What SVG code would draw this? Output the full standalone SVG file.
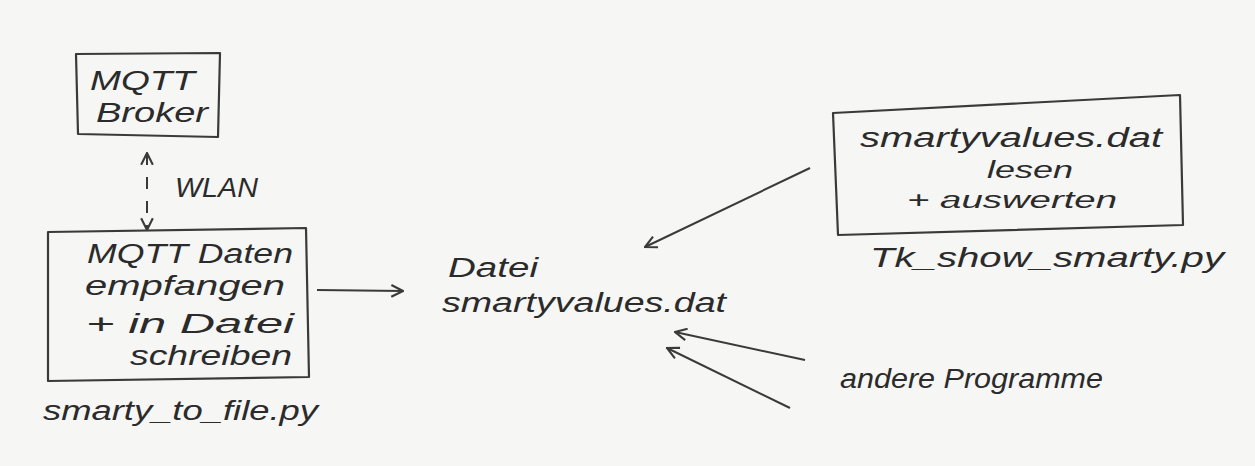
<svg xmlns="http://www.w3.org/2000/svg" width="1255" height="466" viewBox="0 0 1255 466">
<defs>
<style>
.t{font-family:"Liberation Sans","DejaVu Sans",sans-serif;font-style:italic;font-size:27px;fill:#2b2b2b}
.s{font-size:23px}
.box{fill:none;stroke:#3a3a3a;stroke-width:2.2;stroke-linejoin:round}
.ln{fill:none;stroke:#3a3a3a;stroke-width:2}
</style>
<marker id="ah" viewBox="0 0 12 12" refX="11" refY="6" markerWidth="14" markerHeight="14" markerUnits="userSpaceOnUse" orient="auto-start-reverse">
<path d="M1,1 L11,6 L1,11" fill="none" stroke="#3a3a3a" stroke-width="1.8"/>
</marker>
</defs>
<rect width="1255" height="466" fill="#f6f6f4"/>
<g id="broker">
<path class="box" d="M76,54 L220,53 L218,137 L78,134 Z"/>
<text class="t" x="90" y="90" textLength="105" lengthAdjust="spacingAndGlyphs">MQTT</text>
<text class="t" x="96" y="122" textLength="112" lengthAdjust="spacingAndGlyphs">Broker</text>
</g>
<g id="receiver">
<path class="box" d="M48,232 L306,228 L309,377 L48,381 Z"/>
<text class="t" x="87" y="263" textLength="206" lengthAdjust="spacingAndGlyphs">MQTT Daten</text>
<text class="t" x="85" y="295" textLength="200" lengthAdjust="spacingAndGlyphs">empfangen</text>
<text class="t" x="86" y="333" textLength="208" lengthAdjust="spacingAndGlyphs">+ in Datei</text>
<text class="t" x="130" y="365" textLength="162" lengthAdjust="spacingAndGlyphs">schreiben</text>
<text class="t" x="43" y="420" textLength="275" lengthAdjust="spacingAndGlyphs">smarty_to_file.py</text>
</g>
<g id="file">
<text class="t" x="448" y="277" textLength="90" lengthAdjust="spacingAndGlyphs">Datei</text>
<text class="t" x="442" y="312" textLength="284" lengthAdjust="spacingAndGlyphs">smartyvalues.dat</text>
</g>
<g id="tkshow">
<path class="box" d="M833,113 L1180,95 L1183,225 L838,235 Z"/>
<text class="t" x="860" y="147" textLength="302" lengthAdjust="spacingAndGlyphs">smartyvalues.dat</text>
<text class="t s" x="987" y="178" textLength="86" lengthAdjust="spacingAndGlyphs">lesen</text>
<text class="t s" x="907" y="208" textLength="210" lengthAdjust="spacingAndGlyphs">+ auswerten</text>
<text class="t" x="870" y="267" textLength="354" lengthAdjust="spacingAndGlyphs">Tk_show_smarty.py</text>
</g>
<g id="others">
<text class="t" x="840" y="388" textLength="263" lengthAdjust="spacingAndGlyphs">andere Programme</text>
</g>
<g id="connectors">
<path class="ln" d="M147,153 L147,230" stroke-dasharray="12,12" marker-start="url(#ah)" marker-end="url(#ah)"/>
<text class="t" x="175" y="197" textLength="83" lengthAdjust="spacingAndGlyphs">WLAN</text>
<path class="ln" d="M317,290 L403,291" marker-end="url(#ah)"/>
<path class="ln" d="M810,168 L645,247" marker-end="url(#ah)"/>
<path class="ln" d="M805,360 L675,332" marker-end="url(#ah)"/>
<path class="ln" d="M790,408 L667,348" marker-end="url(#ah)"/>
</g>
</svg>
